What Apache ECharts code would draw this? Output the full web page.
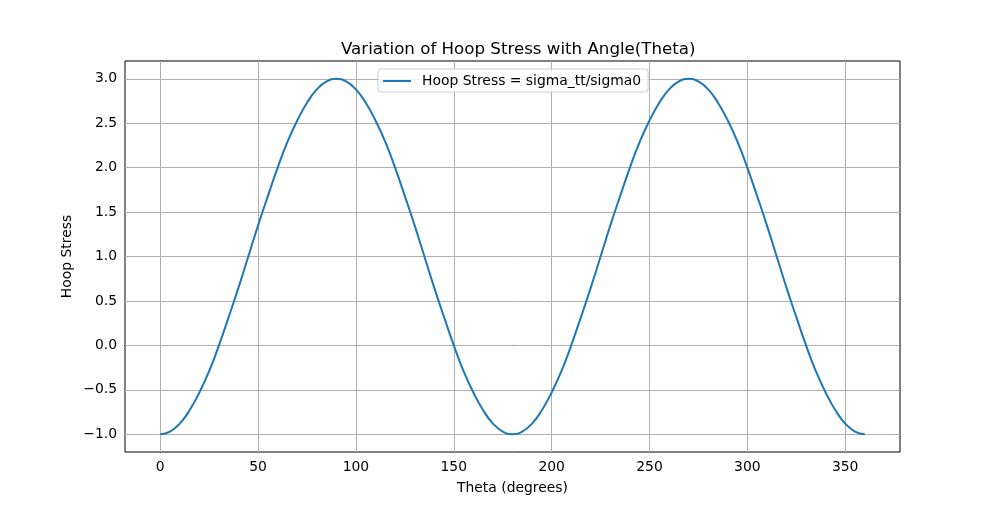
<!DOCTYPE html>
<html>
<head>
<meta charset="utf-8">
<script src="https://cdn.jsdelivr.net/npm/echarts@6/dist/echarts.min.js"></script>
<style>
  html, body { margin: 0; padding: 0; background: #fff; }
  #chart { width: 1000px; height: 508px; }
</style>
</head>
<body>
<div id="chart"></div>
<script>
// theta in degrees, every 5 degrees
var theta = [];
for (var t = 0; t <= 360; t += 5) theta.push(t);

// hoop stress values
var hoopStress = [
  -1.00, -0.97, -0.88, -0.73, -0.53, -0.29, 0.00, 0.32, 0.65, 1.00,
  1.35, 1.68, 2.00, 2.29, 2.53, 2.73, 2.88, 2.97, 3.00, 2.97,
  2.88, 2.73, 2.53, 2.29, 2.00, 1.68, 1.35, 1.00, 0.65, 0.32,
  0.00, -0.29, -0.53, -0.73, -0.88, -0.97, -1.00, -0.97, -0.88, -0.73,
  -0.53, -0.29, 0.00, 0.32, 0.65, 1.00, 1.35, 1.68, 2.00, 2.29,
  2.53, 2.73, 2.88, 2.97, 3.00, 2.97, 2.88, 2.73, 2.53, 2.29,
  2.00, 1.68, 1.35, 1.00, 0.65, 0.32, 0.00, -0.29, -0.53, -0.73,
  -0.88, -0.97, -1.00
];

var xTicks = [0, 50, 100, 150, 200, 250, 300, 350];
var yTicks = [-1.0, -0.5, 0.0, 0.5, 1.0, 1.5, 2.0, 2.5, 3.0];

var seriesName = 'Hoop Stress = sigma_tt/sigma0';
var FONT = 'DejaVu Sans';

var myChart = echarts.init(document.getElementById('chart'));

var points = [];
for (var i = 0; i < theta.length; i++) {
    points.push([theta[i], hoopStress[i]]);
}

// grid lines at the tick positions (matplotlib style)
var gridLines = [];
xTicks.forEach(function (v) { gridLines.push({xAxis: v}); });
yTicks.forEach(function (v) { gridLines.push({yAxis: v}); });

function fmtY(v) {
    var s = v.toFixed(1);
    return s.replace('-', '\u2212');
}

var option = {
    animation: false,
    title: {
        text: 'Variation of Hoop Stress with Angle(Theta)',
        left: 336,
        top: 36,
        textStyle: {fontFamily: FONT, fontSize: 16.67, fontWeight: 'normal', color: '#000'}
    },
    legend: {
        data: [{name: seriesName, icon: 'path://M0,0 L28,0 L28,2 L0,2 Z'}],
        left: 378,
        top: 69,
        itemWidth: 28,
        itemHeight: 2,
        itemGap: 0,
        padding: [5, 7, 4, 5],
        borderColor: '#d0d0d0',
        borderWidth: 1,
        borderRadius: 3,
        backgroundColor: 'rgba(255,255,255,0.8)',
        textStyle: {fontFamily: FONT, fontSize: 13.9, color: '#000', padding: [0, 0, 0, 6]}
    },
    grid: {
        left: 125,
        right: 100,
        top: 61,
        bottom: 56,
        show: true,
        borderColor: '#000',
        borderWidth: 1,
        backgroundColor: '#fff'
    },
    xAxis: {
        type: 'value',
        min: -18,
        max: 378,
        name: 'Theta (degrees)',
        nameLocation: 'middle',
        nameGap: 29,
        nameTextStyle: {fontFamily: FONT, fontSize: 13.9, color: '#000'},
        axisLine: {show: true, lineStyle: {color: '#000', width: 1}},
        axisTick: {show: true, inside: false, length: 5, customValues: xTicks, lineStyle: {color: '#000'}},
        axisLabel: {customValues: xTicks, margin: 8, fontFamily: FONT, fontSize: 13.9, color: '#000'},
        splitLine: {show: false}
    },
    yAxis: {
        type: 'value',
        min: -1.2,
        max: 3.2,
        name: 'Hoop Stress',
        nameLocation: 'middle',
        nameGap: 51,
        nameMoveOverlap: false,
        nameTextStyle: {fontFamily: FONT, fontSize: 13.9, color: '#000'},
        axisLine: {show: true, lineStyle: {color: '#000', width: 1}},
        axisTick: {show: true, inside: false, length: 5, customValues: yTicks, lineStyle: {color: '#000'}},
        axisLabel: {customValues: yTicks, margin: 8, fontFamily: FONT, fontSize: 13.9, color: '#000', formatter: fmtY},
        splitLine: {show: false}
    },
    series: [
        {
            name: 'grid',
            type: 'line',
            data: [],
            z: 1,
            silent: true,
            markLine: {
                silent: true,
                symbol: ['none', 'none'],
                z: 1,
                label: {show: false},
                lineStyle: {color: '#b0b0b0', width: 1, type: 'solid'},
                emphasis: {disabled: true},
                data: gridLines
            }
        },
        {
            name: seriesName,
            type: 'line',
            data: points,
            smooth: true,
            showSymbol: false,
            z: 3,
            lineStyle: {color: '#1f77b4', width: 2},
            itemStyle: {color: '#1f77b4'}
        }
    ]
};

myChart.setOption(option);
</script>
</body>
</html>
